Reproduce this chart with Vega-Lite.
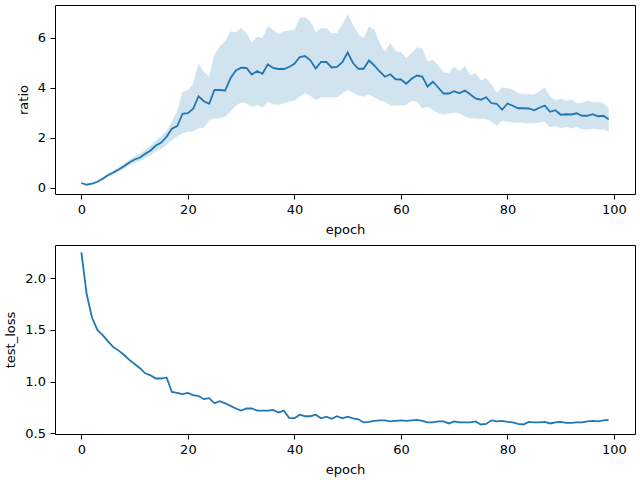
{
  "$schema": "https://vega.github.io/schema/vega-lite/v6.json",
  "padding": {"left": 4, "top": 4, "right": 4, "bottom": 4},
  "background": "white",
  "spacing": 7,
  "config": {
    "font": "DejaVu Sans",
    "view": {"stroke": "#000000", "strokeWidth": 1},
    "axis": {
      "grid": false, "domain": false, "tickColor": "#000000", "tickSize": 5, "tickWidth": 1,
      "labelFont": "DejaVu Sans", "labelFontSize": 13, "labelColor": "#000000", "labelPadding": 4.5,
      "titleFont": "DejaVu Sans", "titleFontSize": 13, "titleFontWeight": "normal", "titleColor": "#000000", "titlePadding": 7
    }
  },
  "datasets": {
    "runs": [
      {"epoch": 0, "ratio": 0.18, "ratio_lo": 0.15, "ratio_hi": 0.21, "test_loss": 2.25},
      {"epoch": 1, "ratio": 0.11, "ratio_lo": 0.09, "ratio_hi": 0.13, "test_loss": 1.845},
      {"epoch": 2, "ratio": 0.15, "ratio_lo": 0.12, "ratio_hi": 0.18, "test_loss": 1.62},
      {"epoch": 3, "ratio": 0.23, "ratio_lo": 0.19, "ratio_hi": 0.27, "test_loss": 1.50},
      {"epoch": 4, "ratio": 0.35, "ratio_lo": 0.30, "ratio_hi": 0.40, "test_loss": 1.45},
      {"epoch": 5, "ratio": 0.49, "ratio_lo": 0.43, "ratio_hi": 0.55, "test_loss": 1.39},
      {"epoch": 6, "ratio": 0.60, "ratio_lo": 0.53, "ratio_hi": 0.67, "test_loss": 1.335},
      {"epoch": 7, "ratio": 0.72, "ratio_lo": 0.64, "ratio_hi": 0.80, "test_loss": 1.30},
      {"epoch": 8, "ratio": 0.85, "ratio_lo": 0.76, "ratio_hi": 0.94, "test_loss": 1.26},
      {"epoch": 9, "ratio": 1.00, "ratio_lo": 0.90, "ratio_hi": 1.10, "test_loss": 1.21},
      {"epoch": 10, "ratio": 1.12, "ratio_lo": 0.99, "ratio_hi": 1.25, "test_loss": 1.17},
      {"epoch": 11, "ratio": 1.20, "ratio_lo": 1.06, "ratio_hi": 1.35, "test_loss": 1.13},
      {"epoch": 12, "ratio": 1.35, "ratio_lo": 1.18, "ratio_hi": 1.50, "test_loss": 1.08},
      {"epoch": 13, "ratio": 1.48, "ratio_lo": 1.30, "ratio_hi": 1.68, "test_loss": 1.06},
      {"epoch": 14, "ratio": 1.68, "ratio_lo": 1.45, "ratio_hi": 1.88, "test_loss": 1.03},
      {"epoch": 15, "ratio": 1.80, "ratio_lo": 1.55, "ratio_hi": 2.04, "test_loss": 1.03},
      {"epoch": 16, "ratio": 2.03, "ratio_lo": 1.71, "ratio_hi": 2.25, "test_loss": 1.04},
      {"epoch": 17, "ratio": 2.35, "ratio_lo": 1.90, "ratio_hi": 2.62, "test_loss": 0.90},
      {"epoch": 18, "ratio": 2.46, "ratio_lo": 2.05, "ratio_hi": 3.05, "test_loss": 0.89},
      {"epoch": 19, "ratio": 2.95, "ratio_lo": 2.17, "ratio_hi": 3.82, "test_loss": 0.88},
      {"epoch": 20, "ratio": 2.97, "ratio_lo": 2.24, "ratio_hi": 3.89, "test_loss": 0.89},
      {"epoch": 21, "ratio": 3.15, "ratio_lo": 2.26, "ratio_hi": 4.16, "test_loss": 0.87},
      {"epoch": 22, "ratio": 3.65, "ratio_lo": 2.37, "ratio_hi": 4.95, "test_loss": 0.86},
      {"epoch": 23, "ratio": 3.45, "ratio_lo": 2.40, "ratio_hi": 4.62, "test_loss": 0.83},
      {"epoch": 24, "ratio": 3.35, "ratio_lo": 2.70, "ratio_hi": 4.43, "test_loss": 0.84},
      {"epoch": 25, "ratio": 3.90, "ratio_lo": 2.77, "ratio_hi": 5.30, "test_loss": 0.79},
      {"epoch": 26, "ratio": 3.90, "ratio_lo": 2.77, "ratio_hi": 5.65, "test_loss": 0.81},
      {"epoch": 27, "ratio": 3.88, "ratio_lo": 2.84, "ratio_hi": 5.85, "test_loss": 0.79},
      {"epoch": 28, "ratio": 4.37, "ratio_lo": 3.04, "ratio_hi": 6.24, "test_loss": 0.765},
      {"epoch": 29, "ratio": 4.68, "ratio_lo": 3.28, "ratio_hi": 6.20, "test_loss": 0.74},
      {"epoch": 30, "ratio": 4.79, "ratio_lo": 3.41, "ratio_hi": 6.37, "test_loss": 0.72},
      {"epoch": 31, "ratio": 4.78, "ratio_lo": 3.37, "ratio_hi": 6.17, "test_loss": 0.74},
      {"epoch": 32, "ratio": 4.52, "ratio_lo": 3.24, "ratio_hi": 5.79, "test_loss": 0.74},
      {"epoch": 33, "ratio": 4.66, "ratio_lo": 3.31, "ratio_hi": 6.03, "test_loss": 0.72},
      {"epoch": 34, "ratio": 4.55, "ratio_lo": 3.20, "ratio_hi": 5.97, "test_loss": 0.72},
      {"epoch": 35, "ratio": 4.93, "ratio_lo": 3.44, "ratio_hi": 6.44, "test_loss": 0.72},
      {"epoch": 36, "ratio": 4.78, "ratio_lo": 3.33, "ratio_hi": 6.30, "test_loss": 0.725},
      {"epoch": 37, "ratio": 4.74, "ratio_lo": 3.31, "ratio_hi": 6.13, "test_loss": 0.70},
      {"epoch": 38, "ratio": 4.74, "ratio_lo": 3.37, "ratio_hi": 6.24, "test_loss": 0.72},
      {"epoch": 39, "ratio": 4.82, "ratio_lo": 3.44, "ratio_hi": 6.28, "test_loss": 0.65},
      {"epoch": 40, "ratio": 4.95, "ratio_lo": 3.48, "ratio_hi": 6.30, "test_loss": 0.645},
      {"epoch": 41, "ratio": 5.22, "ratio_lo": 3.64, "ratio_hi": 6.77, "test_loss": 0.68},
      {"epoch": 42, "ratio": 5.26, "ratio_lo": 3.77, "ratio_hi": 6.81, "test_loss": 0.665},
      {"epoch": 43, "ratio": 5.09, "ratio_lo": 3.67, "ratio_hi": 6.64, "test_loss": 0.665},
      {"epoch": 44, "ratio": 4.76, "ratio_lo": 3.51, "ratio_hi": 6.20, "test_loss": 0.68},
      {"epoch": 45, "ratio": 5.02, "ratio_lo": 3.61, "ratio_hi": 6.37, "test_loss": 0.645},
      {"epoch": 46, "ratio": 5.02, "ratio_lo": 3.62, "ratio_hi": 6.37, "test_loss": 0.66},
      {"epoch": 47, "ratio": 4.80, "ratio_lo": 3.61, "ratio_hi": 6.17, "test_loss": 0.64},
      {"epoch": 48, "ratio": 4.82, "ratio_lo": 3.61, "ratio_hi": 6.17, "test_loss": 0.665},
      {"epoch": 49, "ratio": 5.01, "ratio_lo": 3.77, "ratio_hi": 6.51, "test_loss": 0.645},
      {"epoch": 50, "ratio": 5.40, "ratio_lo": 3.91, "ratio_hi": 6.91, "test_loss": 0.66},
      {"epoch": 51, "ratio": 4.98, "ratio_lo": 3.81, "ratio_hi": 6.50, "test_loss": 0.645},
      {"epoch": 52, "ratio": 4.75, "ratio_lo": 3.68, "ratio_hi": 6.13, "test_loss": 0.635},
      {"epoch": 53, "ratio": 4.75, "ratio_lo": 3.64, "ratio_hi": 5.97, "test_loss": 0.605},
      {"epoch": 54, "ratio": 5.08, "ratio_lo": 3.73, "ratio_hi": 6.44, "test_loss": 0.61},
      {"epoch": 55, "ratio": 4.88, "ratio_lo": 3.61, "ratio_hi": 6.31, "test_loss": 0.62},
      {"epoch": 56, "ratio": 4.64, "ratio_lo": 3.49, "ratio_hi": 5.77, "test_loss": 0.625},
      {"epoch": 57, "ratio": 4.43, "ratio_lo": 3.44, "ratio_hi": 5.44, "test_loss": 0.625},
      {"epoch": 58, "ratio": 4.53, "ratio_lo": 3.28, "ratio_hi": 5.77, "test_loss": 0.615},
      {"epoch": 59, "ratio": 4.33, "ratio_lo": 3.28, "ratio_hi": 5.44, "test_loss": 0.62},
      {"epoch": 60, "ratio": 4.32, "ratio_lo": 3.28, "ratio_hi": 5.41, "test_loss": 0.625},
      {"epoch": 61, "ratio": 4.15, "ratio_lo": 3.31, "ratio_hi": 5.17, "test_loss": 0.62},
      {"epoch": 62, "ratio": 4.35, "ratio_lo": 3.47, "ratio_hi": 5.37, "test_loss": 0.625},
      {"epoch": 63, "ratio": 4.48, "ratio_lo": 3.44, "ratio_hi": 5.60, "test_loss": 0.63},
      {"epoch": 64, "ratio": 4.44, "ratio_lo": 3.17, "ratio_hi": 5.55, "test_loss": 0.62},
      {"epoch": 65, "ratio": 4.04, "ratio_lo": 3.23, "ratio_hi": 5.04, "test_loss": 0.605},
      {"epoch": 66, "ratio": 4.23, "ratio_lo": 3.11, "ratio_hi": 5.11, "test_loss": 0.605},
      {"epoch": 67, "ratio": 4.00, "ratio_lo": 2.97, "ratio_hi": 4.87, "test_loss": 0.615},
      {"epoch": 68, "ratio": 3.76, "ratio_lo": 2.93, "ratio_hi": 4.60, "test_loss": 0.615},
      {"epoch": 69, "ratio": 3.76, "ratio_lo": 2.96, "ratio_hi": 4.57, "test_loss": 0.595},
      {"epoch": 70, "ratio": 3.85, "ratio_lo": 3.00, "ratio_hi": 4.83, "test_loss": 0.615},
      {"epoch": 71, "ratio": 3.77, "ratio_lo": 2.97, "ratio_hi": 4.64, "test_loss": 0.605},
      {"epoch": 72, "ratio": 3.88, "ratio_lo": 2.84, "ratio_hi": 4.84, "test_loss": 0.605},
      {"epoch": 73, "ratio": 3.73, "ratio_lo": 2.77, "ratio_hi": 4.48, "test_loss": 0.605},
      {"epoch": 74, "ratio": 3.56, "ratio_lo": 2.77, "ratio_hi": 4.57, "test_loss": 0.615},
      {"epoch": 75, "ratio": 3.51, "ratio_lo": 2.75, "ratio_hi": 4.27, "test_loss": 0.585},
      {"epoch": 76, "ratio": 3.61, "ratio_lo": 2.75, "ratio_hi": 4.37, "test_loss": 0.59},
      {"epoch": 77, "ratio": 3.37, "ratio_lo": 2.64, "ratio_hi": 4.11, "test_loss": 0.625},
      {"epoch": 78, "ratio": 3.35, "ratio_lo": 2.47, "ratio_hi": 3.77, "test_loss": 0.615},
      {"epoch": 79, "ratio": 3.11, "ratio_lo": 2.67, "ratio_hi": 4.00, "test_loss": 0.62},
      {"epoch": 80, "ratio": 3.36, "ratio_lo": 2.64, "ratio_hi": 3.97, "test_loss": 0.61},
      {"epoch": 81, "ratio": 3.27, "ratio_lo": 2.61, "ratio_hi": 3.91, "test_loss": 0.605},
      {"epoch": 82, "ratio": 3.17, "ratio_lo": 2.60, "ratio_hi": 3.77, "test_loss": 0.59},
      {"epoch": 83, "ratio": 3.17, "ratio_lo": 2.59, "ratio_hi": 3.73, "test_loss": 0.585},
      {"epoch": 84, "ratio": 3.16, "ratio_lo": 2.57, "ratio_hi": 3.73, "test_loss": 0.61},
      {"epoch": 85, "ratio": 3.09, "ratio_lo": 2.57, "ratio_hi": 3.71, "test_loss": 0.605},
      {"epoch": 86, "ratio": 3.19, "ratio_lo": 2.61, "ratio_hi": 3.84, "test_loss": 0.605},
      {"epoch": 87, "ratio": 3.28, "ratio_lo": 2.64, "ratio_hi": 4.00, "test_loss": 0.61},
      {"epoch": 88, "ratio": 3.03, "ratio_lo": 2.40, "ratio_hi": 3.64, "test_loss": 0.595},
      {"epoch": 89, "ratio": 3.09, "ratio_lo": 2.48, "ratio_hi": 3.47, "test_loss": 0.605},
      {"epoch": 90, "ratio": 2.91, "ratio_lo": 2.37, "ratio_hi": 3.55, "test_loss": 0.61},
      {"epoch": 91, "ratio": 2.93, "ratio_lo": 2.44, "ratio_hi": 3.47, "test_loss": 0.60},
      {"epoch": 92, "ratio": 2.92, "ratio_lo": 2.37, "ratio_hi": 3.51, "test_loss": 0.60},
      {"epoch": 93, "ratio": 2.97, "ratio_lo": 2.43, "ratio_hi": 3.37, "test_loss": 0.605},
      {"epoch": 94, "ratio": 2.87, "ratio_lo": 2.33, "ratio_hi": 3.37, "test_loss": 0.605},
      {"epoch": 95, "ratio": 2.87, "ratio_lo": 2.33, "ratio_hi": 3.47, "test_loss": 0.615},
      {"epoch": 96, "ratio": 2.93, "ratio_lo": 2.35, "ratio_hi": 3.41, "test_loss": 0.62},
      {"epoch": 97, "ratio": 2.85, "ratio_lo": 2.33, "ratio_hi": 3.41, "test_loss": 0.615},
      {"epoch": 98, "ratio": 2.87, "ratio_lo": 2.33, "ratio_hi": 3.37, "test_loss": 0.625},
      {"epoch": 99, "ratio": 2.73, "ratio_lo": 2.24, "ratio_hi": 3.17, "test_loss": 0.63}
    ]
  },
  "data": {"name": "runs"},
  "vconcat": [
    {
      "width": 580,
      "height": 189,
      "layer": [
        {
          "mark": {"type": "area", "color": "#1f77b4", "opacity": 0.2, "stroke": "#1f77b4", "strokeOpacity": 0.25, "strokeWidth": 1},
          "encoding": {
            "x": {"field": "epoch", "type": "quantitative", "scale": {"domain": [-4.95, 103.95], "nice": false, "zero": false}, "axis": {"values": [0, 20, 40, 60, 80, 100], "title": "epoch"}},
            "y": {"field": "ratio_hi", "type": "quantitative", "scale": {"domain": [-0.26, 7.3], "nice": false, "zero": false}, "axis": {"values": [0, 2, 4, 6], "title": "ratio"}},
            "y2": {"field": "ratio_lo"}
          }
        },
        {
          "mark": {"type": "line", "color": "#1f77b4", "strokeWidth": 1.8},
          "encoding": {
            "x": {"field": "epoch", "type": "quantitative"},
            "y": {"field": "ratio", "type": "quantitative"}
          }
        }
      ]
    },
    {
      "width": 580,
      "height": 189,
      "mark": {"type": "line", "color": "#1f77b4", "strokeWidth": 1.8},
      "encoding": {
        "x": {"field": "epoch", "type": "quantitative", "scale": {"domain": [-4.95, 103.95], "nice": false, "zero": false}, "axis": {"values": [0, 20, 40, 60, 80, 100], "title": "epoch"}},
        "y": {"field": "test_loss", "type": "quantitative", "scale": {"domain": [0.493, 2.322], "nice": false, "zero": false}, "axis": {"values": [0.5, 1.0, 1.5, 2.0], "format": ".1f", "title": "test_loss"}}
      }
    }
  ]
}
